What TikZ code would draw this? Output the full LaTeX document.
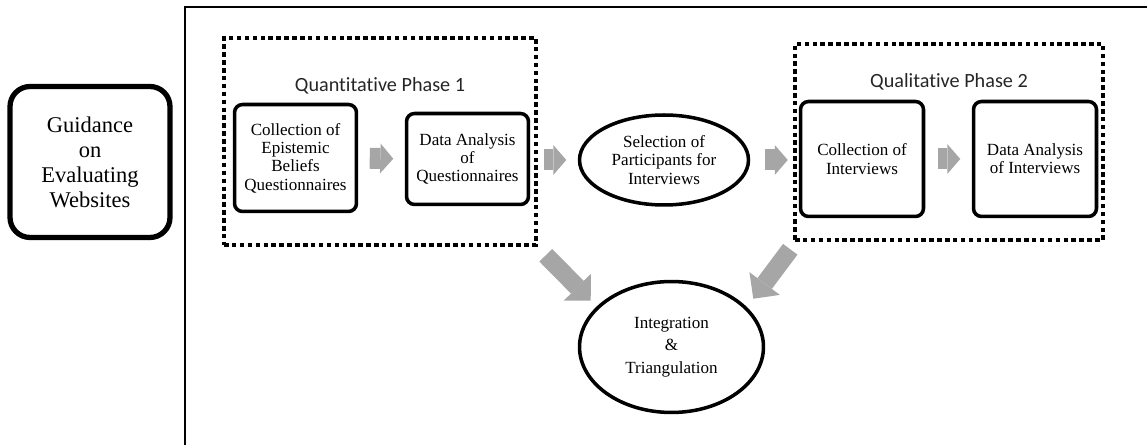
\documentclass[tikz,border=0pt]{standalone}
\usepackage{fontspec}
\setmainfont{Liberation Serif}
\newfontfamily\stagefont{Liberation Serif}
\newfontfamily\phasefont[Ligatures=NoCommon]{Carlito}
\usetikzlibrary{arrows.meta,shapes.geometric}
\definecolor{arrowgray}{RGB}{166,166,166}
\begin{document}
\begin{tikzpicture}[x=0.02cm, y=-0.02cm,
  stage/.style={draw, line width=2pt, rounded corners=0.16cm, align=center, inner sep=0pt, font=\stagefont\fontsize{9.7}{10.4}\selectfont},
  oval/.style={draw, ellipse, line width=2pt, align=center, inner sep=0pt, font=\stagefont\fontsize{9.7}{10.4}\selectfont},
  phase/.style={draw, line width=2.6pt, dash pattern=on 0.09cm off 0.068cm, inner sep=0pt},
  phaselabel/.style={anchor=base, font=\phasefont\fontsize{11.5}{13}\selectfont, text=black!85},
  smallarrow/.style={draw=arrowgray, line width=0.42cm, -{Triangle[length=0.26cm, width=0.6cm, line width=0pt]}},
  bigarrow/.style={draw=arrowgray, line width=0.36cm, -{Triangle[length=0.38cm, width=0.76cm, line width=0pt]}}]
\useasboundingbox (0,0) rectangle (1147,445);
\draw[line width=1.2pt] (1147,7) -- (185,7) -- (185,445);
\node[stage, line width=3pt, rounded corners=0.4cm, minimum width=3.2cm, minimum height=3.02cm, font=\stagefont\fontsize{12.8}{14.2}\selectfont] (guide) at (90,162) {Guidance\\on\\Evaluating\\Websites};
% phase 1
\node[phase, minimum width=6.24cm, minimum height=4.14cm] (phaseA) at (380,141.5) {};
\node[phaselabel] (phaseAlabel) at (380,92) {Quantitative Phase 1};
\node[stage, minimum width=2.44cm, minimum height=2.14cm] (colEB) at (295.5,158) {Collection of\\Epistemic\\Beliefs\\Questionnaires};
\node[stage, minimum width=2.44cm, minimum height=1.82cm] (anaQ) at (467.5,159) {Data Analysis\\of\\Questionnaires};
\draw[smallarrow, shorten <=0.23cm, shorten >=0.23cm] (colEB.east) -- (anaQ.west);
\node[oval, minimum width=3.38cm, minimum height=1.8cm] (select) at (664,160) {Selection of\\Participants for\\Interviews};
\draw[smallarrow, shorten <=0.12cm, shorten >=0.23cm] (phaseA.east |- select.west) -- (select.west);
% phase 2
\node[phase, minimum width=6.16cm, minimum height=3.92cm] (phaseB) at (949,142) {};
\node[phaselabel] (phaseBlabel) at (949,88) {Qualitative Phase 2};
\draw[smallarrow, shorten <=0.29cm, shorten >=0.1cm] (select.east) -- (select.east -| phaseB.west);
\node[stage, minimum width=2.46cm, minimum height=2.3cm] (colI) at (862,159) {Collection of\\Interviews};
\node[stage, minimum width=2.46cm, minimum height=2.3cm] (anaI) at (1035,159) {Data Analysis\\of Interviews};
\draw[smallarrow, shorten <=0.25cm, shorten >=0.23cm] (colI.east) -- (anaI.west);
% merging
\node[oval, minimum width=3.68cm, minimum height=2.62cm, font=\stagefont\fontsize{9.7}{12.7}\selectfont] (integ) at (671.5,347) {Integration\\\&\\Triangulation};
\coordinate (fromA) at ([shift={(7.5,8)}]phaseA.south east);
\coordinate (toA) at ([shift={(-14.5,1.3)}]integ.north west);
\coordinate (fromB) at ([shift={(-2.5,7)}]phaseB.south west);
\coordinate (toB) at ([shift={(15.5,-0.7)}]integ.north east);
\draw[bigarrow] (fromA) -- (toA);
\draw[bigarrow] (fromB) -- (toB);
\end{tikzpicture}
\end{document}
